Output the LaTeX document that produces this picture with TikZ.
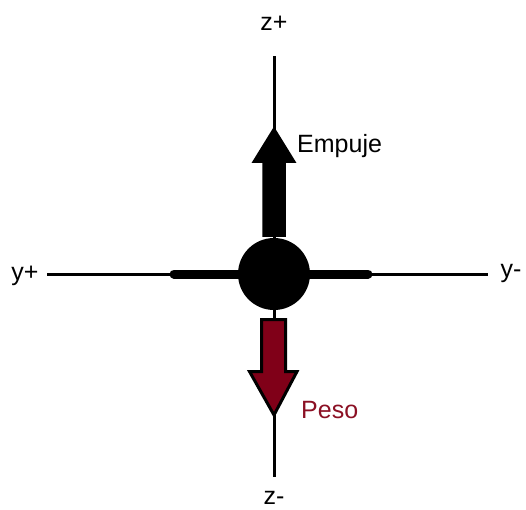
\documentclass[tikz,border=0pt]{standalone}
\usepackage{fontspec}
\setmainfont{Liberation Sans}
\definecolor{pesored}{RGB}{128,0,24}
\definecolor{pesotext}{RGB}{139,16,36}
\begin{document}
\begin{tikzpicture}[x=1pt,y=-1pt,
  axis/.style={line width=3pt},
  lbl/.style={font=\fontsize{25}{29}\selectfont, inner sep=0pt},
  bar/.style={line width=9pt, line cap=round},
  body/.style={circle, fill=black, minimum size=72pt, inner sep=0pt}]
\useasboundingbox (0,0) rectangle (526,509);
% axes
\coordinate (ztop) at (274,56);
\coordinate (zbot) at (274,477);
\coordinate (yl) at (47,274);
\coordinate (yr) at (488,274);
\draw[axis] (ztop) -- (zbot);
\draw[axis] (yl) -- (yr);
% thick bar
\coordinate (bl) at (174,274);
\coordinate (br) at (368,274);
\draw[bar] (bl) -- (br);
% body
\node[body] (c) at (274,274) {};
% thrust arrow (black)
\filldraw[black, line width=1.5pt, line join=miter]
  (263,236) -- (263,162) -- (253,162) -- (274,128) -- (295,162) -- (285,162) -- (285,236) -- cycle;
% weight arrow (red)
\filldraw[fill=pesored, draw=black, line width=3pt, line join=miter]
  (261.5,319.5) -- (261.5,371.5) -- (249.5,371.5) -- (274,415) -- (297,371.5) -- (285.5,371.5) -- (285.5,319.5) -- cycle;
% labels
\node[lbl] (zp) at (274,23) {z+};
\node[lbl] (zm) at (274,498) {z-};
\node[lbl] (yp) at (25,276) {y+};
\node[lbl] (ym) at (511,273) {y-};
\node[lbl, anchor=west] (emp) at (297,146) {Empuje};
\node[lbl, anchor=west, text=pesotext] (peso) at (301,410) {Peso};
\end{tikzpicture}
\end{document}
